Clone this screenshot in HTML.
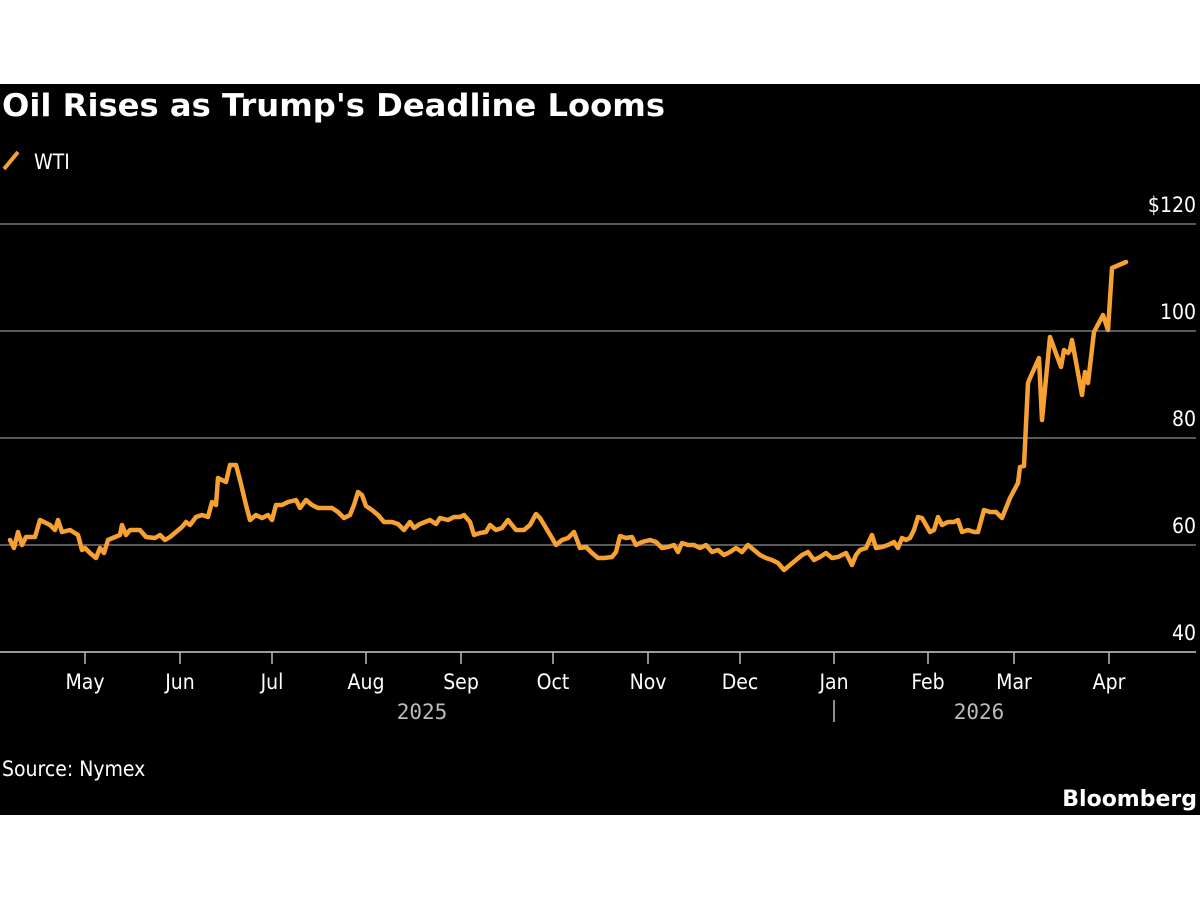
<!DOCTYPE html>
<html><head><meta charset="utf-8"><style>
html,body{margin:0;padding:0;background:#fff;}
body{width:1200px;height:900px;position:relative;overflow:hidden;font-family:"DejaVu Sans Condensed","Liberation Sans",sans-serif;}
#bg{position:absolute;left:0;top:84px;width:1200px;height:731px;background:#000;}
</style></head><body>
<div id="bg"></div>
<svg width="1200" height="900" style="position:absolute;left:0;top:0">
<text x="2" y="116" fill="#fff" font-size="31" font-weight="bold" textLength="663" lengthAdjust="spacingAndGlyphs" font-family="DejaVu Sans, Liberation Sans, sans-serif">Oil Rises as Trump's Deadline Looms</text>
<line x1="4" y1="169" x2="18" y2="152" stroke="#f7a133" stroke-width="4"/>
<text x="34" y="169" fill="#fff" font-size="21" font-family="DejaVu Sans Condensed, Liberation Sans, sans-serif">WTI</text>
<g stroke="#777" stroke-width="1.5">
<line x1="0" y1="224" x2="1196" y2="224"/>
<line x1="0" y1="331" x2="1196" y2="331"/>
<line x1="0" y1="438" x2="1196" y2="438"/>
<line x1="0" y1="545" x2="1196" y2="545"/>
</g>
<line x1="0" y1="652" x2="1196" y2="652" stroke="#999" stroke-width="2"/>
<g fill="#fff" font-size="21" text-anchor="end" font-family="DejaVu Sans Condensed, Liberation Sans, sans-serif">
<text x="1196" y="212">$120</text><text x="1196" y="319">100</text><text x="1196" y="426">80</text><text x="1196" y="533">60</text><text x="1196" y="640">40</text>
</g>
<g stroke="#bbb" stroke-width="1.5">
<line x1="85" y1="652" x2="85" y2="664"/><line x1="180" y1="652" x2="180" y2="664"/><line x1="272" y1="652" x2="272" y2="664"/><line x1="366" y1="652" x2="366" y2="664"/><line x1="461" y1="652" x2="461" y2="664"/><line x1="553" y1="652" x2="553" y2="664"/><line x1="648" y1="652" x2="648" y2="664"/><line x1="740" y1="652" x2="740" y2="664"/><line x1="834" y1="652" x2="834" y2="664"/><line x1="928" y1="652" x2="928" y2="664"/><line x1="1014" y1="652" x2="1014" y2="664"/><line x1="1109" y1="652" x2="1109" y2="664"/>
<line x1="834" y1="700" x2="834" y2="722"/>
</g>
<g fill="#fff" font-size="21" text-anchor="middle" font-family="DejaVu Sans Condensed, Liberation Sans, sans-serif">
<text x="85" y="689">May</text><text x="180" y="689">Jun</text><text x="272" y="689">Jul</text><text x="366" y="689">Aug</text><text x="461" y="689">Sep</text><text x="553" y="689">Oct</text><text x="648" y="689">Nov</text><text x="740" y="689">Dec</text><text x="834" y="689">Jan</text><text x="928" y="689">Feb</text><text x="1014" y="689">Mar</text><text x="1109" y="689">Apr</text>
</g>
<g fill="#bbb" font-size="21" text-anchor="middle" font-family="DejaVu Sans Mono, Liberation Mono, monospace">
<text x="422" y="719">2025</text><text x="979" y="719">2026</text>
</g>
<text x="2" y="776" fill="#fff" font-size="21" font-family="DejaVu Sans Condensed, Liberation Sans, sans-serif">Source: Nymex</text>
<text x="1197" y="806" fill="#fff" font-size="22" font-weight="bold" text-anchor="end" font-family="DejaVu Sans, Liberation Sans, sans-serif">Bloomberg</text>
<polyline fill="none" stroke="#f7a133" stroke-width="4.5" stroke-linejoin="round" stroke-linecap="round" points="10,540 14,548 18,532 22,545 26,537 35,537 40,520 50,525 55,530 58,520 62,532 70,530 78,535 82,550 85,548 90,553 96,558 100,548 104,553 108,540 115,537 120,535 122,525 126,535 130,530 140,530 146,537 155,538 160,535 165,540 170,537 176,532 182,527 186,522 190,525 196,517 202,515 208,517 212,502 216,505 218,478 222,480 226,482 230,465 236,465 240,480 246,505 250,520 256,515 262,518 268,515 272,520 276,505 282,505 288,502 296,500 300,508 306,500 312,505 318,508 326,508 332,508 338,512 344,518 350,515 354,505 358,492 362,495 366,506 372,510 378,515 384,522 392,522 398,524 404,530 410,522 414,528 420,524 430,520 436,524 440,518 448,520 454,517 460,517 464,515 470,522 474,535 480,533 486,532 490,525 496,530 502,528 508,520 512,525 516,530 524,530 530,525 536,514 540,518 546,528 552,538 556,545 562,540 568,538 574,532 580,548 586,547 592,553 598,558 604,558 612,557 616,552 620,536 626,538 632,537 636,545 642,542 650,540 656,542 662,548 668,547 674,545 678,552 682,543 688,545 694,545 700,548 706,545 712,552 718,550 724,555 730,552 736,548 742,552 748,545 754,550 760,555 766,558 772,560 778,563 784,570 790,565 796,560 802,555 808,552 814,560 820,557 826,553 832,558 838,557 846,553 852,565 856,555 860,550 866,548 872,535 876,548 882,547 888,545 894,542 898,548 902,538 906,540 910,538 914,530 918,517 922,518 926,525 930,532 934,530 938,517 942,525 948,522 954,522 958,520 962,532 968,530 974,532 978,532 984,510 990,512 996,512 1002,518 1010,498 1018,483 1020,467 1024,466 1028,383 1030,378 1039,358 1042,420 1050,337 1061,367 1064,350 1068,353 1070,350 1072,340 1082,395 1085,372 1088,383 1094,332 1103,315 1108,330 1112,268 1126,262"/>
</svg>
</body></html>
